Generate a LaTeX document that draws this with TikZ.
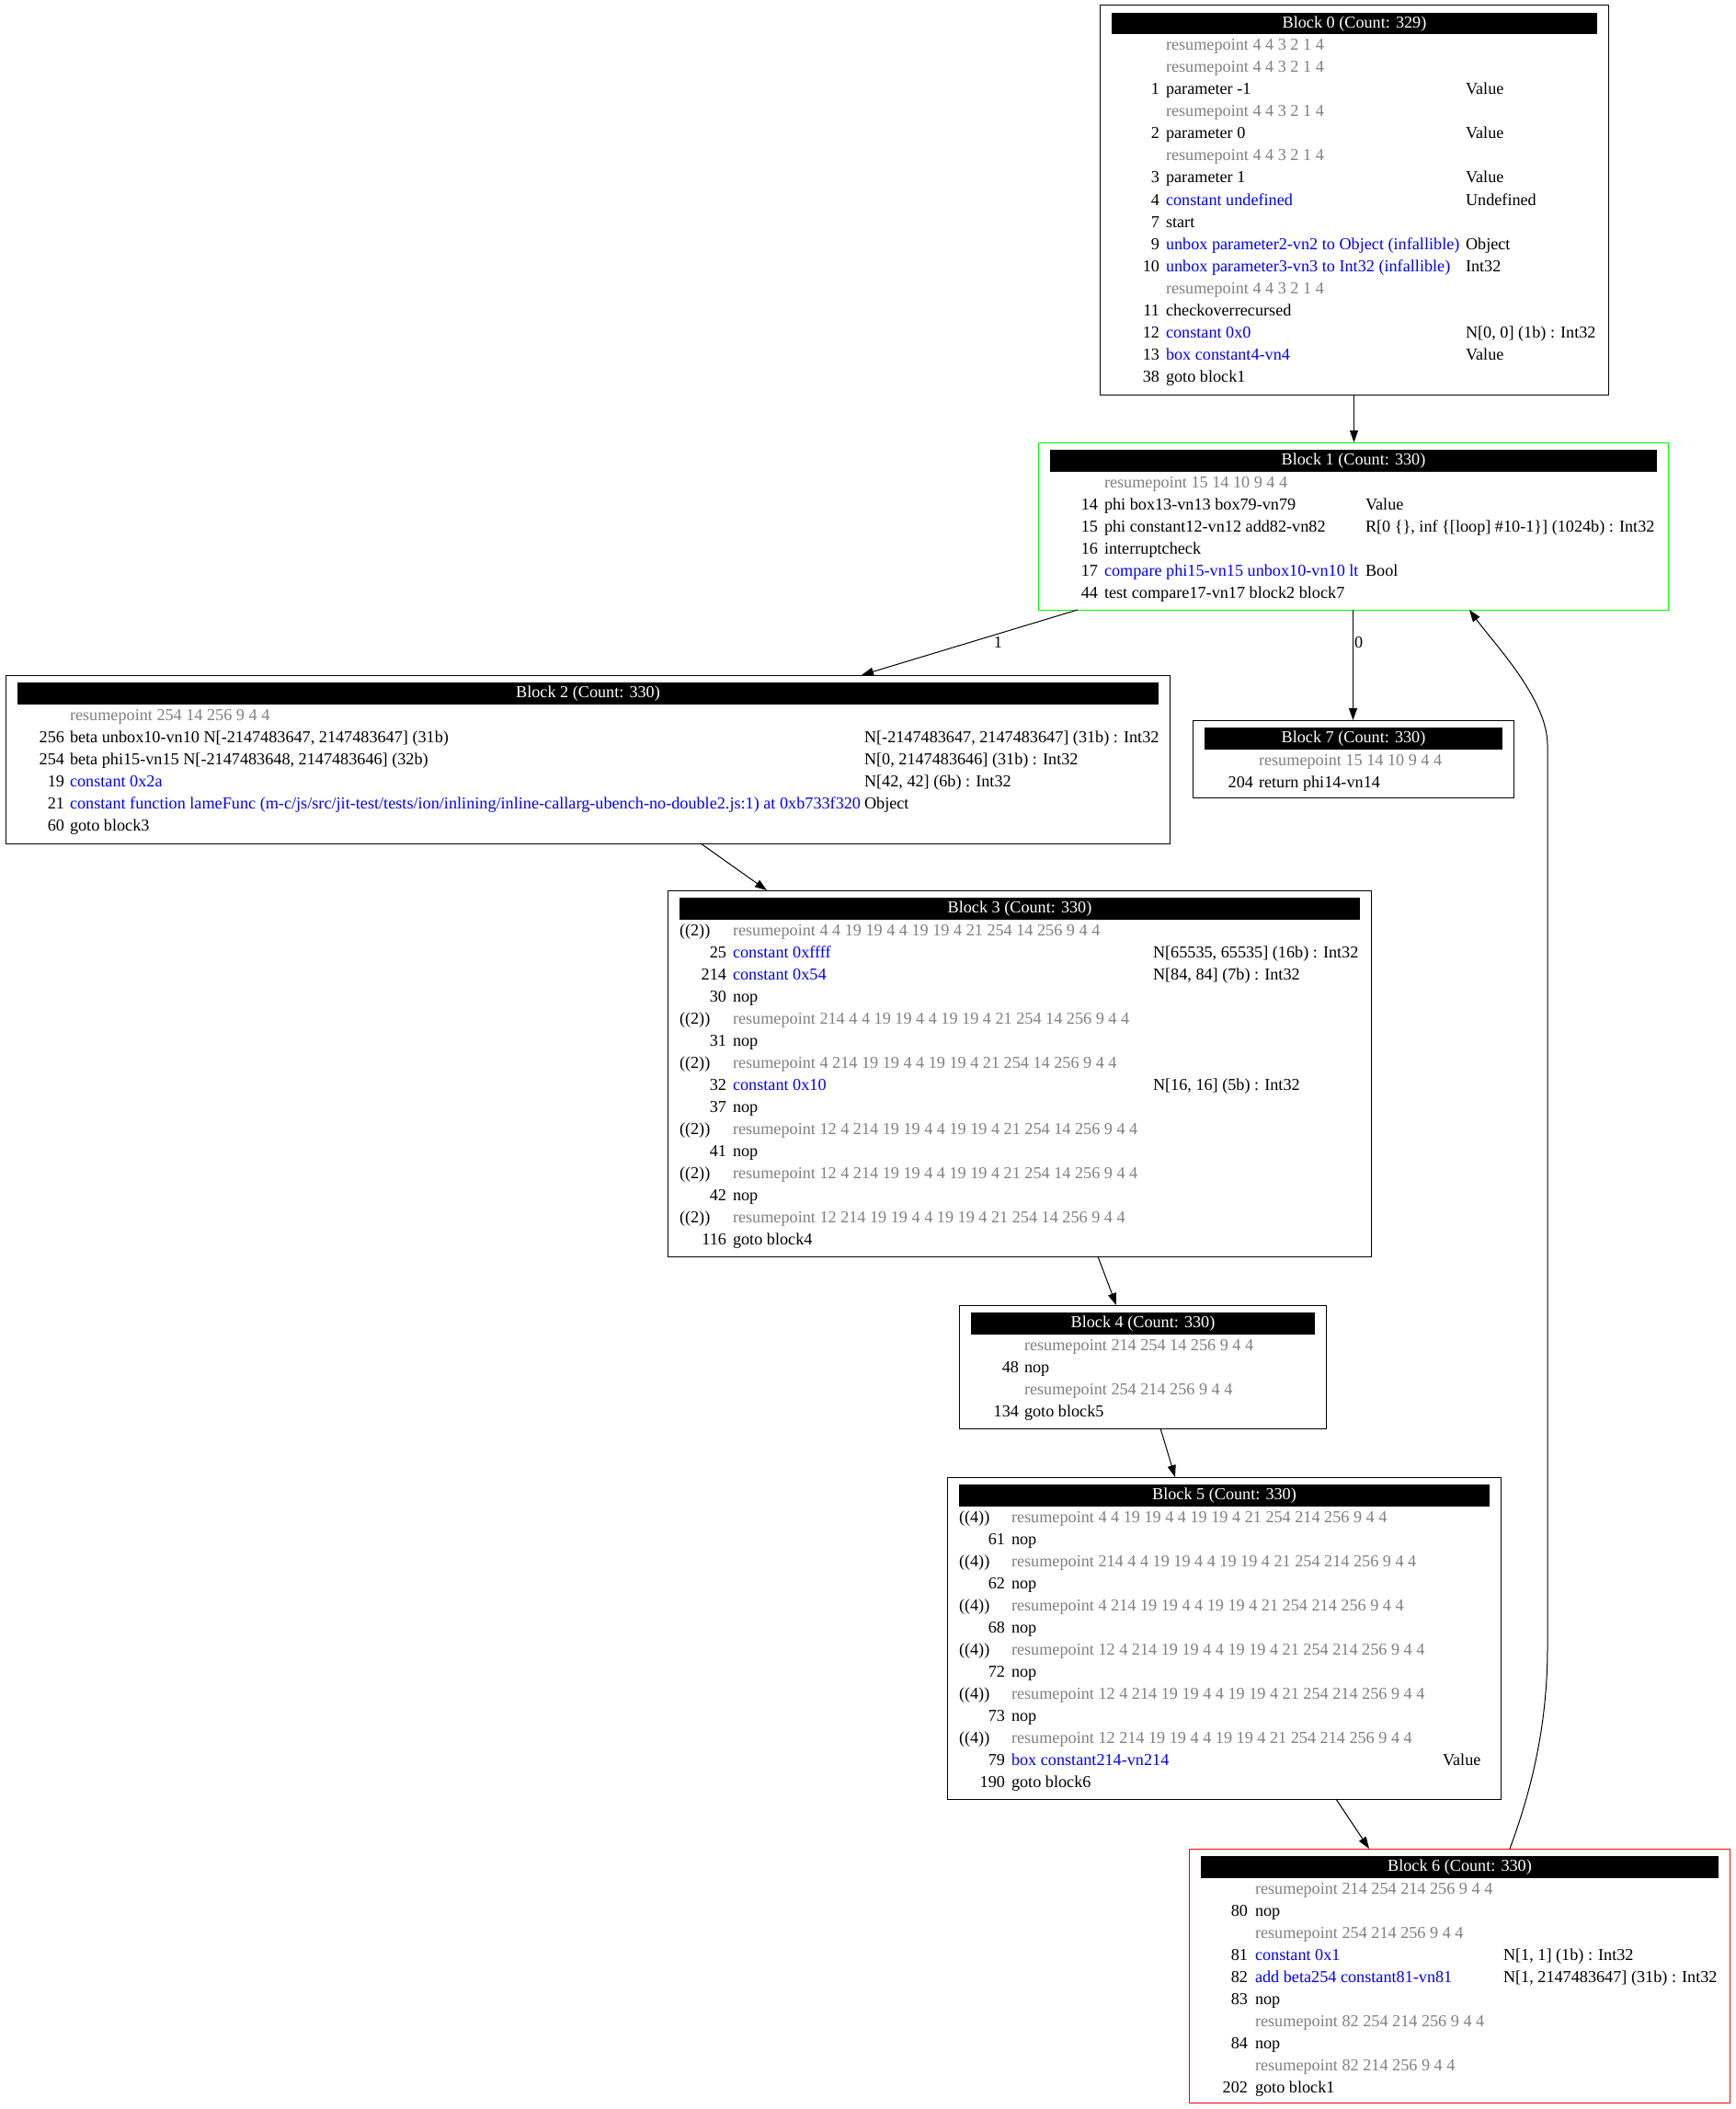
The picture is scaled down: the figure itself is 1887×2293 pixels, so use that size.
\documentclass[tikz,border=0pt]{standalone}
\usepackage{fontspec}
\setmainfont{Liberation Serif}
\usetikzlibrary{arrows.meta}

\definecolor{opblue}{RGB}{0,0,255}
\definecolor{rpgray}{RGB}{128,128,128}
\definecolor{loopgreen}{RGB}{0,255,0}
\definecolor{backred}{RGB}{255,0,0}

\newcommand\gfont{\fontsize{18.2}{22}\selectfont}
\newcommand\bl[1]{\textcolor{opblue}{#1}}
\newcounter{cell}

% block frame + black title bar; sets the y of the first row
\newcommand\mkblock[7]{%
  \node[blockbox,#6,minimum width={#4-#2},minimum height={#5-#3},anchor=north west] (#1) at (#2,#3) {};%
  \node[hdr,minimum width={#4-#2-25},anchor=north west] (#1h) at ({#2+13},{#3+8}) {#7};%
  \def\ry{#3+43}}

% column positions: prefix x, number right edge, text x, type x
\newcommand\cols[4]{\def\px{#1}\def\nx{#2}\def\tx{#3}\def\tyx{#4}}

% instruction row: row index, number, text, type
\newcommand\op[4]{%
  \stepcounter{cell}%
  \node[cell,anchor=base east] (c\arabic{cell}n) at (\nx,{\ry+24*#1+6}) {#2};%
  \node[cell,anchor=base west] (c\arabic{cell}t) at (\tx,{\ry+24*#1+6}) {#3};%
  \ifx&#4&\else\node[cell,anchor=base west] (c\arabic{cell}y) at (\tyx,{\ry+24*#1+6}) {#4};\fi}

% resume point row: row index, prefix, operands
\newcommand\rp[3]{%
  \stepcounter{cell}%
  \ifx&#2&\else\node[cell,anchor=base west] (c\arabic{cell}p) at (\px,{\ry+24*#1+6}) {#2};\fi
  \node[cell,anchor=base west,text=rpgray] (c\arabic{cell}t) at (\tx,{\ry+24*#1+6}) {resumepoint #3};}

\begin{document}
\begin{tikzpicture}[x=1pt,y=-1pt,
  cell/.style={inner sep=0pt,outer sep=0pt,font=\gfont},
  hdr/.style={fill=black,text=white,font=\gfont,minimum height=23.5,inner sep=0pt,outer sep=0pt},
  blockbox/.style={draw=black,line width=1pt,inner sep=0pt,outer sep=0pt},
  flow/.style={draw=black,line width=1pt,-{Triangle[length=13pt,width=9pt]}},
  elabel/.style={inner sep=0pt,font=\gfont}]
\useasboundingbox[fill=white] (0,0) rectangle (1887,2293);

% ---- Block 0
\mkblock{b0}{1196}{6}{1749}{429}{}{Block 0 (Count: 329)}
\cols{1209}{1261}{1268}{1594}
\rp{0}{}{4 4 3 2 1 4}
\rp{1}{}{4 4 3 2 1 4}
\op{2}{1}{parameter -1}{Value}
\rp{3}{}{4 4 3 2 1 4}
\op{4}{2}{parameter 0}{Value}
\rp{5}{}{4 4 3 2 1 4}
\op{6}{3}{parameter 1}{Value}
\op{7}{4}{\bl{constant undefined}}{Undefined}
\op{8}{7}{start}{}
\op{9}{9}{\bl{unbox parameter2-vn2 to Object (infallible)}}{Object}
\op{10}{10}{\bl{unbox parameter3-vn3 to Int32 (infallible)}}{Int32}
\rp{11}{}{4 4 3 2 1 4}
\op{12}{11}{checkoverrecursed}{}
\op{13}{12}{\bl{constant 0x0}}{N[0, 0] (1b) : Int32}
\op{14}{13}{\bl{box constant4-vn4}}{Value}
\op{15}{38}{goto block1}{}

% ---- Block 1 (loop header)
\mkblock{b1}{1129}{481}{1814}{663}{draw=loopgreen}{Block 1 (Count: 330)}
\cols{1142}{1194}{1201}{1485}
\rp{0}{}{15 14 10 9 4 4}
\op{1}{14}{phi box13-vn13 box79-vn79}{Value}
\op{2}{15}{phi constant12-vn12 add82-vn82}{R[0 \{\}, inf \{[loop] \#10-1\}] (1024b) : Int32}
\op{3}{16}{interruptcheck}{}
\op{4}{17}{\bl{compare phi15-vn15 unbox10-vn10 lt}}{Bool}
\op{5}{44}{test compare17-vn17 block2 block7}{}

% ---- Block 2
\mkblock{b2}{6}{734}{1272}{917}{}{Block 2 (Count: 330)}
\cols{19}{70}{76}{940}
\rp{0}{}{254 14 256 9 4 4}
\op{1}{256}{beta unbox10-vn10 N[-2147483647, 2147483647] (31b)}{N[-2147483647, 2147483647] (31b) : Int32}
\op{2}{254}{beta phi15-vn15 N[-2147483648, 2147483646] (32b)}{N[0, 2147483646] (31b) : Int32}
\op{3}{19}{\bl{constant 0x2a}}{N[42, 42] (6b) : Int32}
\op{4}{21}{\bl{constant function lameFunc (m-c/js/src/jit-test/tests/ion/inlining/inline-callarg-ubench-no-double2.js:1) at 0xb733f320}}{Object}
\op{5}{60}{goto block3}{}

% ---- Block 7
\mkblock{b7}{1297}{783}{1646}{867}{}{Block 7 (Count: 330)}
\cols{1310}{1363}{1369}{1500}
\rp{0}{}{15 14 10 9 4 4}
\op{1}{204}{return phi14-vn14}{}

% ---- Block 3
\mkblock{b3}{726}{968}{1491}{1366}{}{Block 3 (Count: 330)}
\cols{739}{790}{797}{1254}
\rp{0}{((2))}{4 4 19 19 4 4 19 19 4 21 254 14 256 9 4 4}
\op{1}{25}{\bl{constant 0xffff}}{N[65535, 65535] (16b) : Int32}
\op{2}{214}{\bl{constant 0x54}}{N[84, 84] (7b) : Int32}
\op{3}{30}{nop}{}
\rp{4}{((2))}{214 4 4 19 19 4 4 19 19 4 21 254 14 256 9 4 4}
\op{5}{31}{nop}{}
\rp{6}{((2))}{4 214 19 19 4 4 19 19 4 21 254 14 256 9 4 4}
\op{7}{32}{\bl{constant 0x10}}{N[16, 16] (5b) : Int32}
\op{8}{37}{nop}{}
\rp{9}{((2))}{12 4 214 19 19 4 4 19 19 4 21 254 14 256 9 4 4}
\op{10}{41}{nop}{}
\rp{11}{((2))}{12 4 214 19 19 4 4 19 19 4 21 254 14 256 9 4 4}
\op{12}{42}{nop}{}
\rp{13}{((2))}{12 214 19 19 4 4 19 19 4 21 254 14 256 9 4 4}
\op{14}{116}{goto block4}{}

% ---- Block 4
\mkblock{b4}{1043}{1419}{1442}{1553}{}{Block 4 (Count: 330)}
\cols{1056}{1108}{1114}{1300}
\rp{0}{}{214 254 14 256 9 4 4}
\op{1}{48}{nop}{}
\rp{2}{}{254 214 256 9 4 4}
\op{3}{134}{goto block5}{}

% ---- Block 5
\mkblock{b5}{1030}{1606}{1632}{1956}{}{Block 5 (Count: 330)}
\cols{1043}{1093}{1100}{1569}
\rp{0}{((4))}{4 4 19 19 4 4 19 19 4 21 254 214 256 9 4 4}
\op{1}{61}{nop}{}
\rp{2}{((4))}{214 4 4 19 19 4 4 19 19 4 21 254 214 256 9 4 4}
\op{3}{62}{nop}{}
\rp{4}{((4))}{4 214 19 19 4 4 19 19 4 21 254 214 256 9 4 4}
\op{5}{68}{nop}{}
\rp{6}{((4))}{12 4 214 19 19 4 4 19 19 4 21 254 214 256 9 4 4}
\op{7}{72}{nop}{}
\rp{8}{((4))}{12 4 214 19 19 4 4 19 19 4 21 254 214 256 9 4 4}
\op{9}{73}{nop}{}
\rp{10}{((4))}{12 214 19 19 4 4 19 19 4 21 254 214 256 9 4 4}
\op{11}{79}{\bl{box constant214-vn214}}{Value}
\op{12}{190}{goto block6}{}

% ---- Block 6 (backedge)
\mkblock{b6}{1293}{2010}{1881}{2286}{draw=backred}{Block 6 (Count: 330)}
\cols{1306}{1357}{1365}{1635}
\rp{0}{}{214 254 214 256 9 4 4}
\op{1}{80}{nop}{}
\rp{2}{}{254 214 256 9 4 4}
\op{3}{81}{\bl{constant 0x1}}{N[1, 1] (1b) : Int32}
\op{4}{82}{\bl{add beta254 constant81-vn81}}{N[1, 2147483647] (31b) : Int32}
\op{5}{83}{nop}{}
\rp{6}{}{82 254 214 256 9 4 4}
\op{7}{84}{nop}{}
\rp{8}{}{82 214 256 9 4 4}
\op{9}{202}{goto block1}{}

% ---- control flow
\draw[flow] (b0.south) -- (b0.south |- b1.north);
\draw[flow] ([xshift=43pt]b1.south west) -- node[elabel,pos=0.5,xshift=31pt] (lab1) {1} ([xshift=931pt]b2.north west);
\draw[flow] (b1.south) -- node[elabel,pos=0.3,anchor=west,xshift=1pt] (lab0) {0} (b7.north);
\draw[flow] ([xshift=756pt]b2.south west) -- ([xshift=108pt]b3.north west);
\draw[flow] ([xshift=468pt]b3.south west) -- ([xshift=171pt]b4.north west);
\draw[flow] ([xshift=219pt]b4.south west) -- ([xshift=248pt]b5.north west);
\draw[flow] ([xshift=423pt]b5.south west) -- ([xshift=196pt]b6.north west);
\coordinate (bk1) at (1683,1790);
\coordinate (bk2) at (1683,810);
\draw[flow] ([xshift=349pt]b6.north west) .. controls (1668,1940) and (1683,1870) .. (bk1)
  -- (bk2) .. controls (1683,760) and (1625,700) .. ([xshift=469pt]b1.south west);
\end{tikzpicture}
\end{document}
